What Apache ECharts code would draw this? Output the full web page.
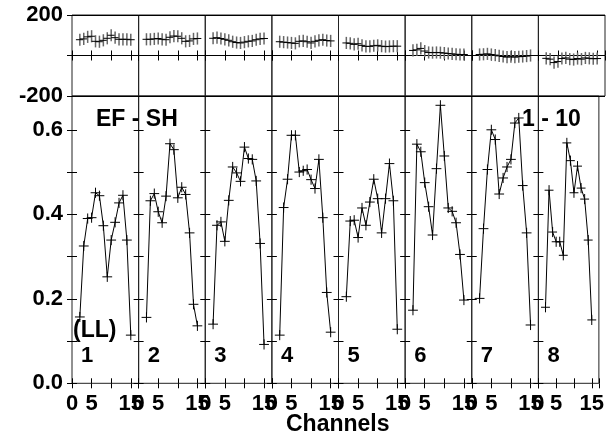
<!DOCTYPE html>
<html>
<head>
<meta charset="utf-8">
<script src="https://cdn.jsdelivr.net/npm/echarts@6/dist/echarts.min.js"></script>
<style>
html,body{margin:0;padding:0;background:#fff;}
#chart{width:607px;height:437px;}
</style>
</head>
<body>
<div id="chart"></div>
<script>
// ---- data ----
const channels = [2,3,4,5,6,7,8,9,10,11,12,13,14,15];
const panelLabels = ['1','2','3','4','5','6','7','8'];
const xTickLabels = [0,5,15];
const ratioTickLabels = [0.0,0.2,0.4,0.6];
const phaseTickLabels = [-200,200];

const ratio1 = [0.157,0.325,0.390,0.392,0.451,0.444,0.373,0.252,0.339,0.381,0.427,0.445,0.339,0.114];
const ratio2 = [0.156,0.432,0.449,0.406,0.380,0.443,0.567,0.553,0.439,0.464,0.447,0.356,0.187,0.136];
const ratio3 = [0.140,0.374,0.382,0.336,0.433,0.512,0.498,0.478,0.559,0.532,0.530,0.479,0.331,0.092];
const ratio4 = [0.114,0.416,0.483,0.587,0.587,0.500,0.503,0.506,0.482,0.461,0.530,0.392,0.215,0.121];
const ratio5 = [0.205,0.384,0.386,0.345,0.415,0.374,0.429,0.483,0.437,0.356,0.437,0.520,0.432,0.128];
const ratio6 = [0.173,0.566,0.548,0.475,0.418,0.351,0.508,0.658,0.538,0.415,0.407,0.380,0.305,0.197];
const ratio7 = [0.201,0.366,0.506,0.600,0.577,0.448,0.486,0.512,0.530,0.616,0.628,0.468,0.356,0.138];
const ratio8 = [0.180,0.457,0.358,0.335,0.335,0.303,0.569,0.527,0.451,0.514,0.462,0.436,0.339,0.150];
const ratioErr = 0.012;

const phase1 = [78,82,92,95,70,68,75,85,100,88,80,80,80,78];
const phase2 = [80,80,82,84,80,78,90,96,95,85,70,72,82,84];
const phase3 = [85,88,84,80,75,68,64,62,66,70,72,78,82,84];
const phase4 = [68,66,64,62,60,70,72,68,62,70,75,78,74,72];
const phase5 = [62,60,55,58,50,45,45,48,50,46,44,45,46,46];
const phase6 = [25,28,35,22,15,14,15,14,12,10,8,6,5,5];
const phase7 = [5,6,8,5,2,-2,-5,-8,-6,-8,-6,-5,-3,0];
const phase8 = [-14,-18,-35,-30,-15,-12,-18,-20,-15,-18,-12,-14,-16,-15];
const phaseErr = 30;

const ratios = [ratio1,ratio2,ratio3,ratio4,ratio5,ratio6,ratio7,ratio8];
const phases = [phase1,phase2,phase3,phase4,phase5,phase6,phase7,phase8];

// ---- layout ----
const L = 72, PW = 533/8, TOP_Y = 15, TOP_H = 81, BOT_Y = 96, BOT_H = 287.3;
const FONT = '"Liberation Sans", Arial, sans-serif';
const HX = 1.25;

const grids = [], xAxes = [], yAxes = [], series = [], graphics = [];

function tickStyle(){ return {show:true, inside:true, length:5, lineStyle:{color:'#000', width:1}}; }

function plusRender(hx, ey, vColor, vWidth){
  return function(params, api){
    const x = api.value(0), y = api.value(1);
    const l = api.coord([x-hx, y]), r = api.coord([x+hx, y]);
    const t = api.coord([x, y+ey]), b = api.coord([x, y-ey]);
    return {type:'group', children:[
      {type:'line', shape:{x1:t[0],y1:t[1],x2:b[0],y2:b[1]}, style:{stroke:vColor, lineWidth:vWidth}},
      {type:'line', shape:{x1:l[0],y1:l[1],x2:r[0],y2:r[1]}, style:{stroke:'#000', lineWidth:1}}
    ]};
  };
}

for (let i=0;i<8;i++){
  const left = L + i*PW;
  grids.push({left:left, top:TOP_Y, width:PW, height:TOP_H, show:true, borderColor:'#222', borderWidth:1, containLabel:false});
  grids.push({left:left, top:BOT_Y, width:PW, height:BOT_H, show:true, borderColor:'#222', borderWidth:1, containLabel:false});
  const gT = 2*i, gB = 2*i+1;
  ['bottom','top'].forEach(pos=>{
    xAxes.push({gridIndex:gT, type:'value', min:0, max:17, interval:5, position:pos,
      axisLine:{show:false}, axisTick:tickStyle(), axisLabel:{show:false}, splitLine:{show:false}});
  });
  ['bottom','top'].forEach(pos=>{
    xAxes.push({gridIndex:gB, type:'value', min:0, max:17, interval:5, position:pos,
      axisLine:{show:false}, axisTick:tickStyle(),
      axisLabel:{show: pos==='bottom', margin:10, color:'#000', fontSize:22, fontWeight:'bold', fontFamily:FONT,
        formatter: v => xTickLabels.includes(v) ? String(v) : ''},
      splitLine:{show:false}});
  });
  ['left','right'].forEach(pos=>{
    yAxes.push({gridIndex:gT, type:'value', min:-200, max:200, interval:200, position:pos,
      axisLine:{show:false}, axisTick:tickStyle(),
      axisLabel:{show: (i===0 && pos==='left'), margin:9, color:'#000', fontSize:22, fontWeight:'bold', fontFamily:FONT,
        formatter: v => phaseTickLabels.includes(v) ? String(v) : ''},
      splitLine:{show: pos==='left', lineStyle:{color:'#000', width:1}}});
  });
  ['left','right'].forEach(pos=>{
    yAxes.push({gridIndex:gB, type:'value', min:0, max:0.68, interval:0.1, position:pos,
      axisLine:{show:false}, axisTick:tickStyle(),
      axisLabel:{show: (i===0 && pos==='left'), margin:9, color:'#000', fontSize:22, fontWeight:'bold', fontFamily:FONT,
        formatter: v => ratioTickLabels.some(t => Math.abs(t-v)<1e-6) ? v.toFixed(1) : ''},
      splitLine:{show:false}});
  });
  const xT = 4*i, xB = 4*i+2, yT = 4*i, yB = 4*i+2;
  const rData = channels.map((c,k)=>[c, ratios[i][k]]);
  const pData = channels.map((c,k)=>[c, phases[i][k]]);
  series.push({type:'line', xAxisIndex:xB, yAxisIndex:yB, data:rData, showSymbol:false, symbol:'none',
    lineStyle:{color:'#000', width:1}, silent:true, animation:false});
  series.push({type:'custom', xAxisIndex:xB, yAxisIndex:yB, data:rData,
    renderItem: plusRender(HX, ratioErr, '#000', 1), animation:false, silent:true});
  series.push({type:'custom', xAxisIndex:xT, yAxisIndex:yT, data:pData,
    renderItem: plusRender(1.0, phaseErr, '#666', 1.5), animation:false, silent:true});
  graphics.push({type:'text', left:left+9, top:345, style:{text:panelLabels[i], fill:'#000', font:'bold 22px '+FONT}});
}

graphics.push({type:'text', left:96, top:108, style:{text:'EF - SH', fill:'#000', font:'bold 23px '+FONT}});
graphics.push({type:'text', left:522, top:108, style:{text:'1 - 10', fill:'#000', font:'bold 23px '+FONT}});
graphics.push({type:'text', left:73, top:319, style:{text:'(LL)', fill:'#000', font:'bold 23px '+FONT}});
graphics.push({type:'text', left:286, top:413, style:{text:'Channels', fill:'#000', font:'bold 23px '+FONT}});

const chart = echarts.init(document.getElementById('chart'), null, {renderer:'canvas'});
chart.setOption({
  animation:false,
  backgroundColor:'#fff',
  grid:grids, xAxis:xAxes, yAxis:yAxes, series:series, graphic:graphics
});
</script>
</body>
</html>
